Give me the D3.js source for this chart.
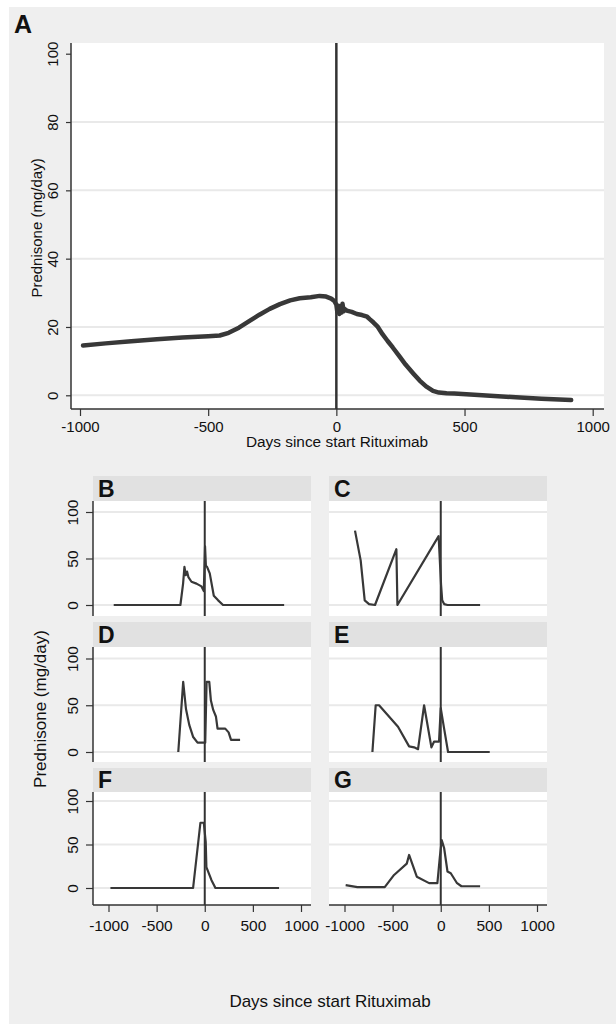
<!DOCTYPE html>
<html>
<head>
<meta charset="utf-8">
<script src="https://cdn.jsdelivr.net/npm/d3@7"></script>
<style>
  body { margin: 0; background: #fff; }
  text { font-family: "Liberation Sans", Arial, Helvetica, sans-serif; fill: #111; }
</style>
</head>
<body>
<svg id="chart"></svg>
<script>
// panel A: mean prednisone dose
var aDays = [-988, -900, -800, -700, -600, -500, -455, -420, -380, -340, -300, -260, -220, -180, -143, -100, -65, -40, -20, -8,
    0, 4, 8, 12, 16, 20, 24, 28, 32, 40, 60, 80, 100, 120, 130, 145, 160, 180, 200, 220, 247, 270, 300, 325, 350, 377, 400,
    430, 460, 507, 600, 700, 800, 916];
var aDose = [14.6, 15.2, 15.8, 16.4, 16.9, 17.3, 17.5, 18.3, 19.8, 21.7, 23.6, 25.3, 26.7, 27.8, 28.4, 28.7, 29.1, 28.9, 28.3, 27.6,
    26.5, 24.3, 26.2, 23.8, 25.6, 24.2, 26.8, 24.6, 25.3, 24.8, 24.4, 23.8, 23.5, 23.0, 22.3, 21.3, 20.2, 17.9, 15.9, 14.0, 11.3, 9.0, 6.4, 4.3, 2.6, 1.3, 0.8,
    0.6, 0.5, 0.3, -0.1, -0.6, -1.0, -1.4];

// individual patients
var bDays = [-946, -253, -225, -211, -197, -184, -170, -138, -86, -34, -10, 3, 12, 24, 52, 94, 139, 190, 825];
var bDose = [0, 0, 23, 41, 32, 36, 30, 25, 23, 20, 15, 63, 42, 41, 34, 10, 5, 0, 0];

var cDays = [-891, -832, -790, -745, -683, -461, -450, -22, 3, 15, 35, 70, 409];
var cDose = [80, 48, 5, 1, 0, 60, 0, 74, 22, 5, 1, 0, 0];

var dDays = [-275, -224, -195, -161, -120, -75, 5, 19, 47, 64, 88, 116, 133, 213, 248, 273, 367];
var dDose = [0, 75, 46, 29, 16, 10, 10, 75, 75, 55, 45, 38, 25, 25, 21, 13, 13];

var eDays = [-710, -676, -641, -444, -329, -277, -236, -173, -97, -70, -18, 0, 35, 76, 509];
var eDose = [0, 50, 50, 27, 6, 5, 3, 50, 5, 11, 11, 47, 25, 0, 0];

var fDays = [-980, -121, -45, -10, 10, 17, 70, 111, 772];
var fDose = [0, 0, 75, 75, 53, 24, 9, 0, 0];

var gDays = [-988, -866, -582, -485, -353, -329, -249, -121, -35, -10, 10, 35, 70, 104, 166, 215, 409];
var gDose = [3.4, 1, 1, 15, 28, 38, 13, 5.6, 5.6, 35, 55, 46, 19, 17, 6, 2, 2];

var aYTicks = [0, 20, 40, 60, 80, 100];
var aGrid = [0, 20, 40, 60, 80];
var smallYTicks = [0, 50, 100];
var xTicks = [-1000, -500, 0, 500, 1000];

var W = 616, H = 1024;
var lineCol = '#383838', axisCol = '#333', gridCol = '#e9e9e9';
var fontFam = '"Liberation Sans", Arial, sans-serif';
var plain = d => String(d);   // keep ASCII hyphen like the original

var svg = d3.select('#chart').attr('width', W).attr('height', H);

svg.append('rect').attr('x', 9).attr('y', 7).attr('width', W - 9).attr('height', H - 7).attr('fill', '#efefef');

// ---------- panel A ----------
var A = { left: 71, right: 604, top: 43, bottom: 409 };
var xA = d3.scaleLinear().domain([-1000, 1000]).range([80, 592.7]);
var yA = d3.scaleLinear().domain([0, 100]).range([395.3, 53.7]);

svg.append('rect').attr('x', A.left).attr('y', A.top)
    .attr('width', A.right - A.left).attr('height', A.bottom - A.top).attr('fill', '#fff');

svg.append('g').selectAll('line').data(aGrid).join('line')
    .attr('x1', A.left).attr('x2', A.right)
    .attr('y1', d => yA(d)).attr('y2', d => yA(d))
    .attr('stroke', gridCol).attr('stroke-width', 2);

var gyA = svg.append('g').attr('transform', `translate(${A.left},0)`)
    .call(d3.axisLeft(yA).tickValues(aYTicks).tickSize(5).tickSizeOuter(0).tickFormat(plain));
gyA.select('.domain').remove();
gyA.append('line').attr('y1', A.top).attr('y2', A.bottom).attr('stroke', axisCol).attr('stroke-width', 1.5);
gyA.selectAll('.tick line').attr('stroke', axisCol).attr('stroke-width', 1.2);
gyA.selectAll('.tick text')
    .attr('x', null).attr('dy', null)
    .attr('transform', 'translate(-13,0) rotate(-90)')
    .attr('text-anchor', 'middle')
    .style('font-size', '15px').style('font-family', fontFam).attr('fill', '#111');

var gxA = svg.append('g').attr('transform', `translate(0,${A.bottom})`)
    .call(d3.axisBottom(xA).tickValues(xTicks).tickSize(7).tickSizeOuter(0).tickFormat(plain));
gxA.select('.domain').remove();
gxA.append('line').attr('x1', A.left).attr('x2', A.right).attr('stroke', axisCol).attr('stroke-width', 1.5);
gxA.selectAll('.tick line').attr('stroke', axisCol).attr('stroke-width', 1.2);
gxA.selectAll('.tick text').attr('y', 23).attr('dy', null)
    .style('font-size', '15px').style('font-family', fontFam).attr('fill', '#111');

svg.append('line').attr('x1', xA(0)).attr('x2', xA(0)).attr('y1', A.top).attr('y2', A.bottom)
    .attr('stroke', axisCol).attr('stroke-width', 2.5);

var lineA = d3.line().x((d, i) => xA(aDays[i])).y(d => yA(d));
svg.append('path').attr('d', lineA(aDose)).attr('fill', 'none')
    .attr('stroke', lineCol).attr('stroke-width', 4.5)
    .attr('stroke-linejoin', 'round').attr('stroke-linecap', 'round');

svg.append('text').attr('x', 14).attr('y', 33).text('A')
    .style('font-size', '25px').style('font-weight', 'bold');
svg.append('text').attr('x', 337).attr('y', 447).attr('text-anchor', 'middle')
    .style('font-size', '15.4px').text('Days since start Rituximab');
svg.append('text').attr('transform', 'translate(42,228) rotate(-90)').attr('text-anchor', 'middle')
    .style('font-size', '15px').text('Prednisone (mg/day)');

// ---------- panels B-G ----------
var rows = [
    { hTop: 476, hBot: 501, y100: 512, y0: 605, pBot: 616 },
    { hTop: 622, hBot: 647, y100: 658.5, y0: 752, pBot: 762 },
    { hTop: 768, hBot: 792, y100: 801, y0: 888, pBot: 905 }
];
var cols = [93, 329];
var pw = 218;
var panels = [
    { id: 'B', days: bDays, dose: bDose, r: 0, c: 0 },
    { id: 'C', days: cDays, dose: cDose, r: 0, c: 1 },
    { id: 'D', days: dDays, dose: dDose, r: 1, c: 0 },
    { id: 'E', days: eDays, dose: eDose, r: 1, c: 1 },
    { id: 'F', days: fDays, dose: fDose, r: 2, c: 0 },
    { id: 'G', days: gDays, dose: gDose, r: 2, c: 1 }
];

panels.forEach(function (p) {
    var row = rows[p.r], x0 = cols[p.c];
    var x = d3.scaleLinear().domain([-1000, 1000]).range([x0 + 15.5, x0 + 208]);
    var y = d3.scaleLinear().domain([0, 100]).range([row.y0, row.y100]);
    var g = svg.append('g');

    g.append('rect').attr('x', x0).attr('y', row.hTop).attr('width', pw).attr('height', row.hBot - row.hTop)
        .attr('fill', '#e1e1e1');
    g.append('rect').attr('x', x0).attr('y', row.hBot).attr('width', pw).attr('height', row.pBot - row.hBot)
        .attr('fill', '#fff');
    g.append('text').attr('x', x0 + 5).attr('y', row.hBot - 4).text(p.id)
        .style('font-size', '23px').style('font-weight', 'bold');

    g.selectAll('line.grid').data(smallYTicks).join('line').attr('class', 'grid')
        .attr('x1', x0).attr('x2', x0 + pw)
        .attr('y1', d => y(d)).attr('y2', d => y(d))
        .attr('stroke', gridCol).attr('stroke-width', 2);

    if (p.c === 0) {
        var gy = g.append('g').attr('transform', `translate(${x0},0)`)
            .call(d3.axisLeft(y).tickValues(smallYTicks).tickSize(7).tickSizeOuter(0).tickFormat(plain));
        gy.select('.domain').remove();
        gy.append('line').attr('y1', row.hBot).attr('y2', row.pBot).attr('stroke', axisCol).attr('stroke-width', 1.5);
        gy.selectAll('.tick line').attr('stroke', axisCol).attr('stroke-width', 1.2);
        gy.selectAll('.tick text')
            .attr('x', null).attr('dy', null)
            .attr('transform', 'translate(-15,0) rotate(-90)')
            .attr('text-anchor', 'middle')
            .style('font-size', '15.5px').style('font-family', fontFam).attr('fill', '#111');
    }

    if (p.r === 2) {
        var gx = g.append('g').attr('transform', `translate(0,${row.pBot})`)
            .call(d3.axisBottom(x).tickValues(xTicks).tickSize(7).tickSizeOuter(0).tickFormat(plain));
        gx.select('.domain').remove();
        gx.append('line').attr('x1', x0).attr('x2', x0 + pw).attr('stroke', axisCol).attr('stroke-width', 1.5);
        gx.selectAll('.tick line').attr('stroke', axisCol).attr('stroke-width', 1.2);
        gx.selectAll('.tick text').attr('y', 26).attr('dy', null)
            .style('font-size', '15.5px').style('font-family', fontFam).attr('fill', '#111');
    }

    g.append('line').attr('x1', x(0)).attr('x2', x(0)).attr('y1', row.hBot).attr('y2', row.pBot)
        .attr('stroke', axisCol).attr('stroke-width', 2);

    var line = d3.line().x((d, i) => x(p.days[i])).y(d => y(d));
    g.append('path').attr('d', line(p.dose)).attr('fill', 'none')
        .attr('stroke', lineCol).attr('stroke-width', 2.2)
        .attr('stroke-linejoin', 'round');
});

svg.append('text').attr('transform', 'translate(46,709) rotate(-90)').attr('text-anchor', 'middle')
    .style('font-size', '17px').text('Prednisone (mg/day)');
svg.append('text').attr('x', 330).attr('y', 1007).attr('text-anchor', 'middle')
    .style('font-size', '17px').text('Days since start Rituximab');
</script>
</body>
</html>
